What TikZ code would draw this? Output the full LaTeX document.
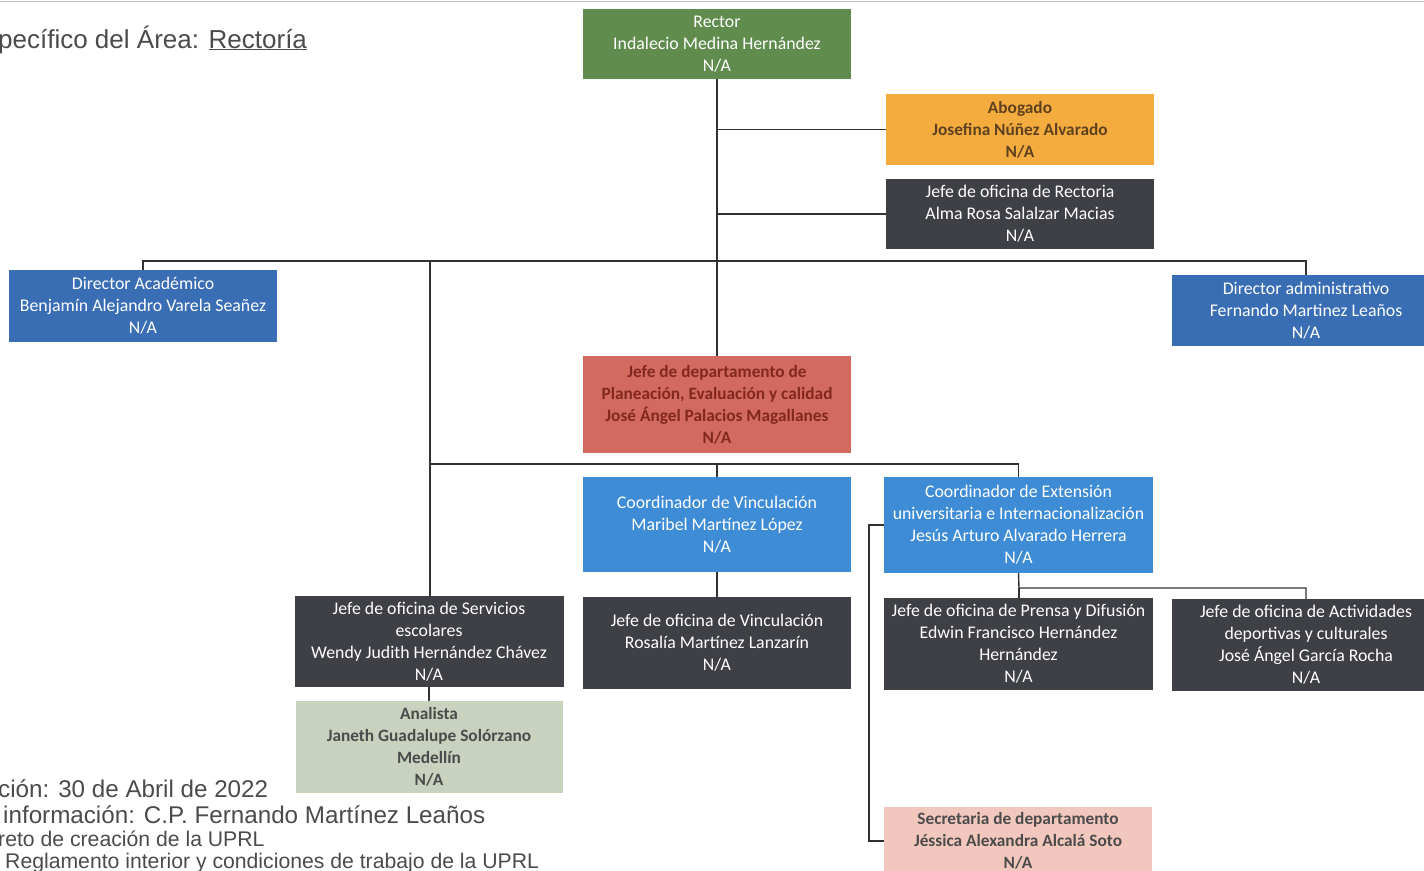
\documentclass[tikz,border=0pt]{standalone}
\usepackage{fontspec}
\newfontfamily\calib{Carlito}
\newfontfamily\arialf{Liberation Sans}
\definecolor{cgreen}{RGB}{96,140,78}
\definecolor{corange}{RGB}{245,172,62}
\definecolor{cdark}{RGB}{62,64,70}
\definecolor{cblue}{RGB}{58,110,180}
\definecolor{cred}{RGB}{210,106,96}
\definecolor{credtxt}{RGB}{130,40,30}
\definecolor{clblue}{RGB}{62,140,214}
\definecolor{cana}{RGB}{200,210,190}
\definecolor{cpink}{RGB}{242,200,190}
\definecolor{cline}{RGB}{50,50,50}
\definecolor{ctxt}{RGB}{75,75,75}
\definecolor{cbrown}{RGB}{95,65,30}
\tikzset{
  box/.style={rectangle, inner sep=0pt, align=center, minimum width=268pt,
    font=\calib\fontsize{17.8}{22}\selectfont},
  bbox/.style={box, font=\calib\bfseries\fontsize{17.3}{22}\selectfont},
  wbox/.style={box, text=white},
  conn/.style={draw=cline, line width=1.4pt},
  lefttxt/.style={anchor=base west, inner sep=0pt, text=ctxt}
}
\begin{document}
\begin{tikzpicture}[x=1pt,y=-1pt]
\useasboundingbox (0,0) rectangle (1424,870);
\fill[white] (0,0) rectangle (1424,870);
\draw[gray!50, line width=1pt] (0,1) -- (1424,1);

% boxes
\node[wbox, fill=cgreen, minimum height=70pt] (rector) at (717,44) {Rector\\Indalecio Medina Hernández\\N/A};
\node[bbox, fill=corange, text=cbrown, minimum height=71pt] (abog) at (1020,129.5) {Abogado\\Josefina Núñez Alvarado\\N/A};
\node[wbox, fill=cdark, minimum height=70pt] (ofrect) at (1020,214) {Jefe de oficina de Rectoria\\Alma Rosa Salalzar Macias\\N/A};
\node[wbox, fill=cblue, minimum height=72pt] (diracad) at (143,306) {Director Académico\\Benjamín Alejandro Varela Seañez\\N/A};
\node[wbox, fill=cblue, minimum height=71pt] (diradm) at (1306,310.5) {Director administrativo\\Fernando Martinez Leaños\\N/A};
\node[bbox, fill=cred, text=credtxt, minimum height=97pt] (jpl) at (717,404.5) {Jefe de departamento de\\Planeación, Evaluación y calidad\\José Ángel Palacios Magallanes\\N/A};
\node[wbox, fill=clblue, minimum height=95pt] (vinc) at (717,524.5) {Coordinador de Vinculación\\Maribel Martínez López\\N/A};
\node[wbox, fill=clblue, minimum height=96pt, minimum width=269pt] (ext) at (1018.5,525) {Coordinador de Extensión\\universitaria e Internacionalización\\Jesús Arturo Alvarado Herrera\\N/A};
\node[wbox, fill=cdark, minimum height=91pt, minimum width=269pt] (serv) at (429,641.5) {Jefe de oficina de Servicios\\escolares\\Wendy Judith Hernández Chávez\\N/A};
\node[wbox, fill=cdark, minimum height=92pt] (jov) at (717,643) {Jefe de oficina de Vinculación\\Rosalía Martínez Lanzarín\\N/A};
\node[wbox, fill=cdark, minimum height=92pt, minimum width=269pt] (prensa) at (1018.5,644) {Jefe de oficina de Prensa y Difusión\\Edwin Francisco Hernández\\Hernández\\N/A};
\node[wbox, fill=cdark, minimum height=92pt] (activ) at (1306,645) {Jefe de oficina de Actividades\\deportivas y culturales\\José Ángel García Rocha\\N/A};
\node[bbox, fill=cana, text=ctxt, minimum height=92pt, minimum width=267pt] (anal) at (429,747) {Analista\\Janeth Guadalupe Solórzano\\Medellín\\N/A};
\node[bbox, fill=cpink, text=ctxt, minimum height=68pt] (secr) at (1018,841) {Secretaria de departamento\\Jéssica Alexandra Alcalá Soto\\N/A};

% connectors
\coordinate (b1) at (717,261);
\coordinate (b2) at (430,464);
\coordinate (b3) at (1019,588);
\draw[conn] (rector.south) -- (jpl.north);
\draw[conn] (rector.south |- abog.west) -- (abog.west);
\draw[conn] (rector.south |- ofrect.west) -- (ofrect.west);
\draw[conn] (diracad.north) |- (b1) -| (diradm.north);
\draw[conn] (b2 |- b1) -- (b2 |- serv.north);
\draw[conn] (b2) -| (ext.north);
\draw[conn] (vinc.north |- b2) -- (vinc.north);
\draw[conn] (vinc.south) -- (jov.north);
\draw[conn] (ext.south) -- (b3) -| (activ.north);
\draw[conn] (b3) -- (b3 |- prensa.north);
\draw[conn] (serv.south) -- (anal.north);
\draw[conn] (ext.west) -- ++(-15,0) |- (secr.west);

% side texts
\node[lefttxt, font=\arialf\fontsize{26}{30}\selectfont] (area) at (-2,48) {pecífico del Área: \underline{Rectoría}};
\node[lefttxt, font=\arialf\fontsize{24.2}{26}\selectfont] (t1) at (-2,797) {ción: 30 de Abril de 2022};
\node[lefttxt, font=\arialf\fontsize{24.2}{26}\selectfont] (t2) at (3,823) {información: C.P. Fernando Martínez Leaños};
\node[lefttxt, font=\arialf\fontsize{21.2}{22}\selectfont] (t3) at (-2,846) {reto de creación de la UPRL};
\node[lefttxt, font=\arialf\fontsize{21.2}{22}\selectfont] (t4) at (5,868) {Reglamento interior y condiciones de trabajo de la UPRL};
\end{tikzpicture}
\end{document}
